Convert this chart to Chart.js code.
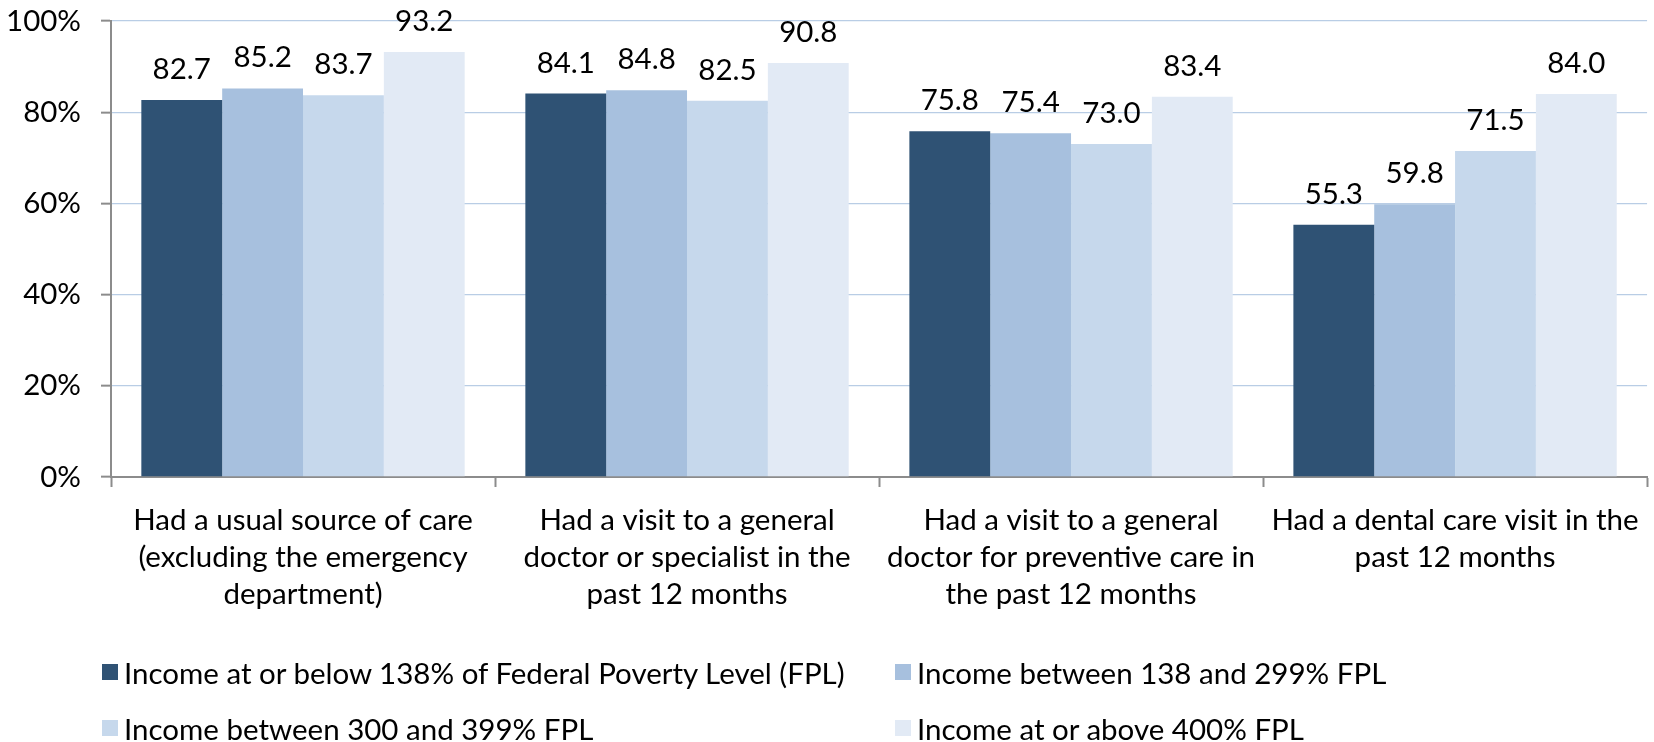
<!DOCTYPE html>
<html>
<head>
<meta charset="utf-8">
<script src="https://cdn.jsdelivr.net/npm/chart.js@4.4.1/dist/chart.umd.min.js"></script>
<style>
  body { margin: 0; background: #fff; }
  #chart__wrap { position: relative; width: 1654px; height: 742px; }
  #legend { position: absolute; left: 0; top: 644px; width: 1654px; font-family: Lato, sans-serif; font-size: 29.5px; color: #000; }
  .legend__item { position: absolute; height: 56px; display: flex; align-items: center; white-space: nowrap; }
  .legend__box { width: 16px; height: 16px; margin-right: 6px; }
</style>
</head>
<body>
<div id="chart__wrap">
  <canvas id="chart-canvas"></canvas>
  <div id="legend"></div>
</div>
<script>
const categories = [
  ["Had a usual source of care", "(excluding the emergency", "department)"],
  ["Had a visit to a general", "doctor or specialist in the", "past 12 months"],
  ["Had a visit to a general", "doctor for preventive care in", "the past 12 months"],
  ["Had a dental care visit in the", "past 12 months"],
];

const seriesNames = [
  "Income at or below 138% of Federal Poverty Level (FPL)",
  "Income between 138 and 299% FPL",
  "Income between 300 and 399% FPL",
  "Income at or above 400% FPL",
];

const incomeBelow138 = [82.7, 84.1, 75.8, 55.3];
const income138to299 = [85.2, 84.8, 75.4, 59.8];
const income300to399 = [83.7, 82.5, 73.0, 71.5];
const incomeAbove400 = [93.2, 90.8, 83.4, 84.0];

const seriesColors = ["#2f5274", "#a7c0de", "#c6d8ec", "#e2eaf5"];

const FONT = "Lato, sans-serif";
const FONT_SIZE = 29.5;

const seriesValues = [incomeBelow138, income138to299, income300to399, incomeAbove400];

const data = {
  labels: categories,
  datasets: seriesValues.map((values, i) => ({
    label: seriesNames[i],
    data: values,
    backgroundColor: seriesColors[i],
    borderWidth: 0,
    categoryPercentage: 0.842,
    barPercentage: 1.0,
  })),
};

// value labels above each bar
const barValueLabels = {
  id: "barValueLabels",
  afterDatasetsDraw(chart) {
    const ctx = chart.ctx;
    ctx.save();
    ctx.font = `${FONT_SIZE}px ${FONT}`;
    ctx.fillStyle = "#000";
    ctx.textAlign = "center";
    ctx.textBaseline = "alphabetic";
    chart.data.datasets.forEach((ds, i) => {
      chart.getDatasetMeta(i).data.forEach((bar, j) => {
        ctx.fillText(ds.data[j].toFixed(1), bar.x, bar.y - 21);
      });
    });
    ctx.restore();
  },
};

const config = {
  type: "bar",
  data: data,
  options: {
    responsive: true,
    maintainAspectRatio: false,
    animation: false,
    layout: { padding: { top: 21, right: 3, bottom: 125, left: 0 } },
    plugins: {
      legend: { display: false },
      tooltip: { enabled: false },
    },
    scales: {
      x: {
        grid: {
          drawOnChartArea: false,
          drawTicks: true,
          tickLength: 10,
          tickColor: "#8c8c8c",
          tickWidth: 2,
        },
        border: { color: "#8c8c8c", width: 2 },
        ticks: {
          color: "#000",
          font: { family: FONT, size: FONT_SIZE, lineHeight: 1.25 },
          padding: 15,
          maxRotation: 0,
          autoSkip: false,
        },
        afterFit(scale) { scale.height = 140; },
      },
      y: {
        min: 0,
        max: 100,
        grid: {
          color: (c) => (c.tick && c.tick.value === 0 ? "rgba(0,0,0,0)" : "#b9cde5"),
          lineWidth: 1.3,
          tickLength: 10,
          tickColor: "#8c8c8c",
          tickWidth: 2,
        },
        border: { color: "#8c8c8c", width: 2 },
        ticks: {
          stepSize: 20,
          color: "#000",
          padding: 20,
          font: { family: FONT, size: FONT_SIZE },
          callback: (v) => v + "%",
        },
        afterFit(scale) {
          scale.width = 111;
          scale.paddingTop = 0;
          scale.paddingBottom = 0;
        },
      },
    },
  },
  plugins: [barValueLabels],
};

const myChart = new Chart(document.getElementById("chart-canvas"), config);

// legend in two fixed columns
const legendEl = document.getElementById("legend");
const legendCols = [102, 895];
seriesNames.forEach((name, i) => {
  const item = document.createElement("div");
  item.className = "legend__item";
  item.style.left = legendCols[i % 2] + "px";
  item.style.top = Math.floor(i / 2) * 56 + "px";
  const box = document.createElement("span");
  box.className = "legend__box";
  box.style.background = seriesColors[i];
  const text = document.createElement("span");
  text.textContent = name;
  item.appendChild(box);
  item.appendChild(text);
  legendEl.appendChild(item);
});
</script>
</body>
</html>
